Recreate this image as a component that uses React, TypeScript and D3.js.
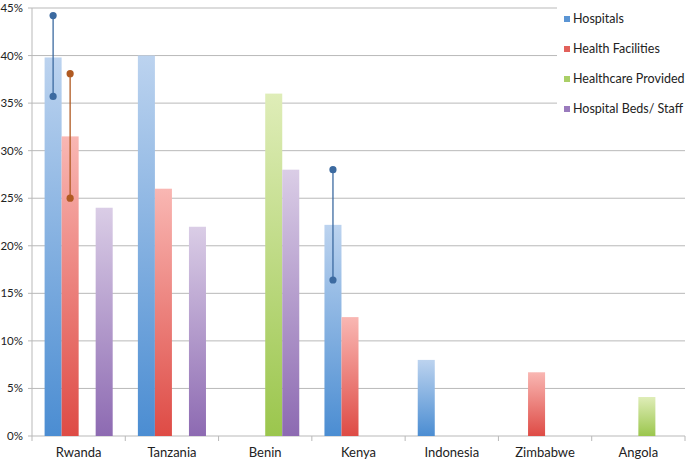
import React from 'react';
import * as d3 from 'd3';

// chart data (percent)
const categories = ['Rwanda', 'Tanzania', 'Benin', 'Kenya', 'Indonesia', 'Zimbabwe', 'Angola'];
const seriesNames = ['Hospitals', 'Health Facilities', 'Healthcare Provided', 'Hospital Beds/ Staff'];
const hospitals = [39.8, 40, null, 22.2, 8, null, null];
const healthFacilities = [31.5, 26, null, 12.5, null, 6.7, null];
const healthcareProvided = [null, null, 36, null, null, null, 4.1];
const hospitalBeds = [24, 22, 28, null, null, null, null];
const yTicks = [0, 5, 10, 15, 20, 25, 30, 35, 40, 45];

// high / low range markers
const rangeCategory = ['Rwanda', 'Rwanda', 'Kenya'];
const rangeSeries = ['Hospitals', 'Health Facilities', 'Hospitals'];
const rangeLow = [35.7, 25, 16.4];
const rangeHigh = [44.2, 38.1, 28];

const seriesValues = [hospitals, healthFacilities, healthcareProvided, hospitalBeds];
const colors = [
	{ top: '#bcd3ef', bottom: '#4b8dd2', key: '#5b95d4', mark: '#3c6aa0' },
	{ top: '#f9b7b3', bottom: '#de4b45', key: '#e2615b', mark: '#b05a22' },
	{ top: '#dfedb8', bottom: '#9bc64d', key: '#aacf67', mark: '#7a9a3a' },
	{ top: '#dacde6', bottom: '#8d6ab2', key: '#9a7bbd', mark: '#6b4f8e' },
];

const W = 689;
const H = 463;
const font = 'Lato, "Open Sans", sans-serif';

export default function App() {
	const left = 32;
	const right = 685;
	const top = 8;
	const bottom = 436;

	const x0 = d3.scaleBand<string>().domain(categories).range([left, right]);
	const x1 = d3
		.scaleBand<string>()
		.domain(seriesNames)
		.range([0, x0.bandwidth()])
		.paddingOuter(0.74);
	const y = d3.scaleLinear().domain([0, 45]).range([bottom, top]);

	const bars = [];
	seriesValues.forEach((vals, si) => {
		vals.forEach((v, ci) => {
			if (v == null) return;
			bars.push({ si, ci, v });
		});
	});

	return (
		<svg
			width={W}
			height={H}
			style={{ position: 'absolute', left: 0, top: 0, background: '#fff' }}
			fontFamily={font}
		>
			<defs>
				{colors.map((c, i) => (
					<linearGradient key={i} id={`g${i}`} x1='0' y1='0' x2='0' y2='1'>
						<stop offset='0%' stopColor={c.top} />
						<stop offset='100%' stopColor={c.bottom} />
					</linearGradient>
				))}
			</defs>

			{/* gridlines + y labels */}
			{yTicks.map((t) => (
				<g key={t}>
					<line
						x1={left - 4}
						x2={right}
						y1={y(t)}
						y2={y(t)}
						stroke='#b9b9b9'
						strokeWidth={1}
					/>
					<text x={23} y={y(t)} dy='0.35em' textAnchor='end' fontSize={11.5} fill='#222'>
						{t}%
					</text>
				</g>
			))}

			{/* left axis */}
			<line x1={left} x2={left} y1={top} y2={bottom} stroke='#b9b9b9' />

			{/* category ticks */}
			{[...categories.map((c) => x0(c)), right].map((xv, i) => (
				<line key={i} x1={xv} x2={xv} y1={bottom} y2={bottom + 5} stroke='#b9b9b9' />
			))}

			{/* bars */}
			{bars.map((b, i) => (
				<rect
					key={i}
					x={x0(categories[b.ci]) + x1(seriesNames[b.si])}
					y={y(b.v)}
					width={x1.bandwidth()}
					height={bottom - y(b.v)}
					fill={`url(#g${b.si})`}
				/>
			))}

			{/* range markers */}
			{rangeCategory.map((c, i) => {
				const si = seriesNames.indexOf(rangeSeries[i]);
				const cx = x0(c) + x1(rangeSeries[i]) + x1.bandwidth() / 2;
				const col = colors[si].mark;
				return (
					<g key={i}>
						<line x1={cx} x2={cx} y1={y(rangeHigh[i])} y2={y(rangeLow[i])} stroke={col} strokeWidth={1.3} />
						<circle cx={cx} cy={y(rangeHigh[i])} r={3.6} fill={col} />
						<circle cx={cx} cy={y(rangeLow[i])} r={3.6} fill={col} />
					</g>
				);
			})}

			{/* x labels */}
			{categories.map((c) => (
				<text
					key={c}
					x={x0(c) + x0.bandwidth() / 2}
					y={457}
					textAnchor='middle'
					fontSize={13}
					fill='#222'
				>
					{c}
				</text>
			))}

			{/* legend */}
			<rect x={557} y={0} width={W - 557} height={124} fill='#fff' />
			{seriesNames.map((s, i) => (
				<g key={s} transform={`translate(564,${19 + i * 30})`}>
					<rect x={0} y={-3} width={6} height={6} fill={colors[i].key} />
					<text x={9} y={0} dy='0.35em' fontSize={12.5} fill='#222'>
						{s}
					</text>
				</g>
			))}
		</svg>
	);
}
